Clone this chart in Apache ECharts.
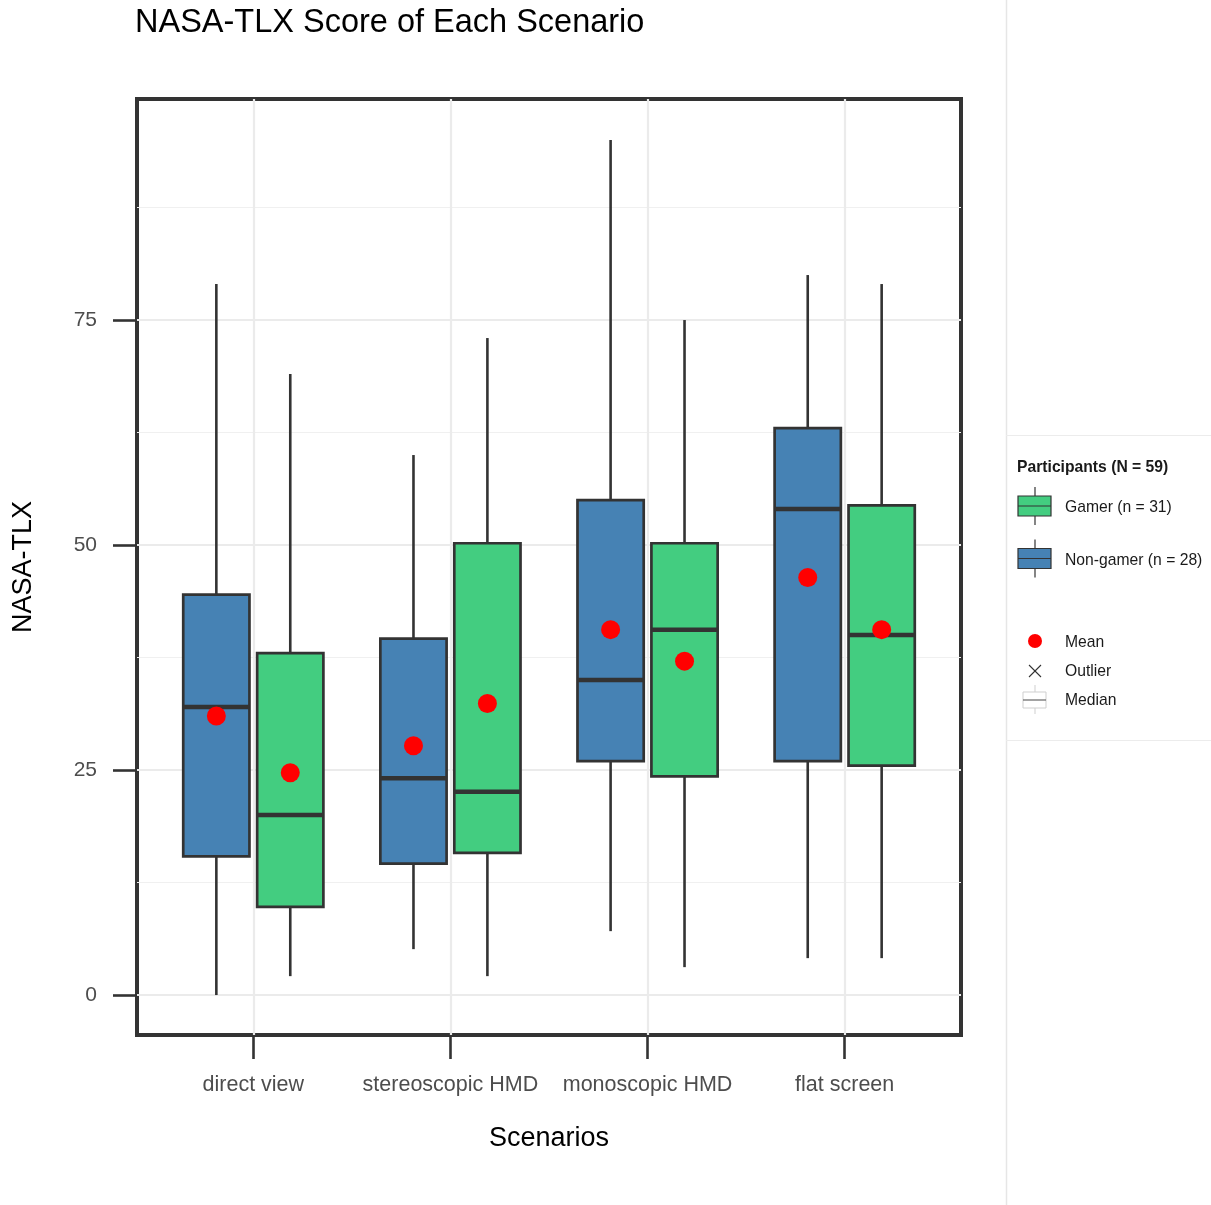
<!DOCTYPE html>
<html>
<head>
<meta charset="utf-8">
<script src="https://cdn.jsdelivr.net/npm/echarts@6/dist/echarts.min.js"></script>
<style>
  html, body { margin: 0; padding: 0; background: #ffffff; }
  #chart { width: 1211px; height: 1205px; }
</style>
</head>
<body>
<div id="chart"></div>
<script>
// ---- data ----
const scenarios = ['direct view', 'stereoscopic HMD', 'monoscopic HMD', 'flat screen'];
const yTicks = [0, 25, 50, 75];
const yMinorTicks = [12.5, 37.5, 62.5, 87.5];
const xTicks = [1, 2, 3, 4];

// five-number summaries per scenario: [min, Q1, median, Q3, max]
const nonGamerBox = [
  [0.0, 15.4, 32.0, 44.5, 79.0],
  [5.1, 14.6, 24.1, 39.6, 60.0],
  [7.1, 26.0, 35.0, 55.0, 95.0],
  [4.1, 26.0, 54.0, 63.0, 80.0]
];
const gamerBox = [
  [2.1, 9.8, 20.0, 38.0, 69.0],
  [2.1, 15.8, 22.6, 50.2, 73.0],
  [3.1, 24.3, 40.6, 50.2, 75.0],
  [4.1, 25.5, 40.0, 54.4, 79.0]
];
const nonGamerMean = [31.0, 27.7, 40.6, 46.4];
const gamerMean = [24.7, 32.4, 37.1, 40.6];

const groupNames = ['Gamer (n = 31)', 'Non-gamer (n = 28)'];
const legendTitle = 'Participants (N = 59)';

// ---- styling ----
const FONT = '"Liberation Sans", Arial, Helvetica, sans-serif';
const GREEN = '#43CD80';
const BLUE = '#4682B4';
const DARK = '#333333';
const GRID = '#ebebeb';
const DODGE = 0.1875;   // half of the dodge width, in category units
const HALF_BOX = 0.168; // half box width, in category units

function boxRenderer(offset, fill) {
  return function (params, api) {
    const x = api.value(0) + offset;
    const lo = api.value(1), q1 = api.value(2), med = api.value(3),
          q3 = api.value(4), hi = api.value(5);
    const pHi = api.coord([x, hi]);
    const pQ3 = api.coord([x, q3]);
    const pQ1 = api.coord([x, q1]);
    const pLo = api.coord([x, lo]);
    const tl = api.coord([x - HALF_BOX, q3]);
    const br = api.coord([x + HALF_BOX, q1]);
    const mL = api.coord([x - HALF_BOX, med]);
    const mR = api.coord([x + HALF_BOX, med]);
    return {
      type: 'group',
      children: [
        { type: 'line', shape: { x1: pHi[0], y1: pHi[1], x2: pQ3[0], y2: pQ3[1] },
          style: { stroke: DARK, lineWidth: 2.6 } },
        { type: 'line', shape: { x1: pQ1[0], y1: pQ1[1], x2: pLo[0], y2: pLo[1] },
          style: { stroke: DARK, lineWidth: 2.6 } },
        { type: 'rect', shape: { x: tl[0], y: tl[1], width: br[0] - tl[0], height: br[1] - tl[1] },
          style: { fill: fill, stroke: DARK, lineWidth: 2.7 } },
        { type: 'line', shape: { x1: mL[0], y1: mL[1], x2: mR[0], y2: mR[1] },
          style: { stroke: DARK, lineWidth: 4.5 } }
      ]
    };
  };
}

const chart = echarts.init(document.getElementById('chart'), null, { renderer: 'canvas' });

// legend glyphs (drawn at the right, outside the plot panel)
function boxKey(y, fill) {
  return [
    { type: 'line', shape: { x1: 1035, y1: y - 19, x2: 1035, y2: y + 19 }, style: { stroke: DARK, lineWidth: 1.2 } },
    { type: 'rect', shape: { x: 1018, y: y - 10, width: 33, height: 20 }, style: { fill: fill, stroke: DARK, lineWidth: 1.2 } },
    { type: 'line', shape: { x1: 1018, y1: y, x2: 1051, y2: y }, style: { stroke: DARK, lineWidth: 1.2 } }
  ];
}
function legendText(y, txt, bold) {
  return { type: 'text', x: bold ? 1017 : 1065, y: y,
    style: { text: txt, font: (bold ? 'bold ' : '') + '15.7px ' + FONT, fill: '#1a1a1a', textVerticalAlign: 'middle' } };
}

const graphics = [
  // legend panel outline
  { type: 'line', shape: { x1: 1006.5, y1: 0, x2: 1006.5, y2: 1205 }, style: { stroke: '#e6e6e6', lineWidth: 1.5 } },
  { type: 'line', shape: { x1: 1006, y1: 435.5, x2: 1211, y2: 435.5 }, style: { stroke: '#ececec', lineWidth: 1 } },
  { type: 'line', shape: { x1: 1006, y1: 740.5, x2: 1211, y2: 740.5 }, style: { stroke: '#ececec', lineWidth: 1 } },
  legendText(468, legendTitle, true)
].concat(
  boxKey(506, GREEN), [legendText(508, groupNames[0], false)],
  boxKey(558.5, BLUE), [legendText(561, groupNames[1], false)],
  [
    { type: 'circle', shape: { cx: 1035, cy: 641, r: 7 }, style: { fill: '#ff0000' } },
    legendText(643, 'Mean', false),
    { type: 'line', shape: { x1: 1029, y1: 665, x2: 1041, y2: 677 }, style: { stroke: DARK, lineWidth: 1.1 } },
    { type: 'line', shape: { x1: 1029, y1: 677, x2: 1041, y2: 665 }, style: { stroke: DARK, lineWidth: 1.1 } },
    legendText(672, 'Outlier', false),
    { type: 'line', shape: { x1: 1035, y1: 685, x2: 1035, y2: 714 }, style: { stroke: '#cfcfcf', lineWidth: 1 } },
    { type: 'rect', shape: { x: 1023, y: 692, width: 23, height: 16 }, style: { fill: '#ffffff', stroke: '#cfcfcf', lineWidth: 1 } },
    { type: 'line', shape: { x1: 1023, y1: 700, x2: 1046, y2: 700 }, style: { stroke: '#666666', lineWidth: 1.2 } },
    legendText(701, 'Median', false)
  ]
);

const option = {
  backgroundColor: '#ffffff',
  animation: false,
  title: {
    text: 'NASA-TLX Score of Each Scenario',
    left: 135, top: 7, padding: 0,
    textStyle: { fontFamily: FONT, fontSize: 32.5, fontWeight: 'normal', color: '#000000' }
  },
  grid: {
    left: 137, top: 99, width: 824, height: 936,
    show: true, borderColor: DARK, borderWidth: 4, backgroundColor: 'transparent'
  },
  xAxis: {
    type: 'value', min: 0.41, max: 4.59,
    name: 'Scenarios', nameLocation: 'middle', nameGap: 90,
    nameTextStyle: { fontFamily: FONT, fontSize: 27, color: '#000000' },
    axisLine: { show: false, onZero: false },
    axisTick: { show: true, length: 24, customValues: xTicks, lineStyle: { color: DARK, width: 2.6 } },
    axisLabel: {
      customValues: xTicks, margin: 39, fontFamily: FONT, fontSize: 21.5, color: '#4d4d4d',
      formatter: function (v) { return scenarios[Math.round(v) - 1]; }
    },
    splitLine: { show: true, lineStyle: { color: GRID, width: 2.2 } }
  },
  yAxis: [
    {
      type: 'value', min: -4.44, max: 99.56,
      name: 'NASA-TLX', nameLocation: 'middle', nameGap: 100, nameRotate: 90,
      nameTextStyle: { fontFamily: FONT, fontSize: 27, color: '#000000' },
      axisLine: { show: false, onZero: false },
      axisTick: { show: true, length: 24, customValues: yTicks, lineStyle: { color: DARK, width: 2.6 } },
      axisLabel: { customValues: yTicks, margin: 40, fontFamily: FONT, fontSize: 21, color: '#4d4d4d' },
      splitLine: { show: true, lineStyle: { color: GRID, width: 2.2 } }
    },
    {
      type: 'value', min: -4.44, max: 99.56, position: 'left',
      axisLine: { show: false, onZero: false },
      axisTick: { show: false, customValues: yMinorTicks },
      axisLabel: { show: false, customValues: yMinorTicks },
      splitLine: { show: true, lineStyle: { color: '#f0f0f0', width: 1.2 } }
    }
  ],
  graphic: graphics,
  series: [
    {
      name: 'Non-gamer', type: 'custom', xAxisIndex: 0, yAxisIndex: 0,
      renderItem: boxRenderer(-DODGE, BLUE),
      encode: { x: 0, y: [1, 2, 3, 4, 5] },
      data: nonGamerBox.map(function (b, i) { return [i + 1].concat(b); }),
      z: 3
    },
    {
      name: 'Gamer', type: 'custom', xAxisIndex: 0, yAxisIndex: 0,
      renderItem: boxRenderer(DODGE, GREEN),
      encode: { x: 0, y: [1, 2, 3, 4, 5] },
      data: gamerBox.map(function (b, i) { return [i + 1].concat(b); }),
      z: 3
    },
    {
      name: 'Non-gamer mean', type: 'scatter', xAxisIndex: 0, yAxisIndex: 0,
      symbol: 'circle', symbolSize: 19, itemStyle: { color: '#ff0000', opacity: 1 },
      data: nonGamerMean.map(function (m, i) { return [i + 1 - DODGE, m]; }),
      z: 5
    },
    {
      name: 'Gamer mean', type: 'scatter', xAxisIndex: 0, yAxisIndex: 0,
      symbol: 'circle', symbolSize: 19, itemStyle: { color: '#ff0000', opacity: 1 },
      data: gamerMean.map(function (m, i) { return [i + 1 + DODGE, m]; }),
      z: 5
    }
  ]
};

chart.setOption(option);
</script>
</body>
</html>
